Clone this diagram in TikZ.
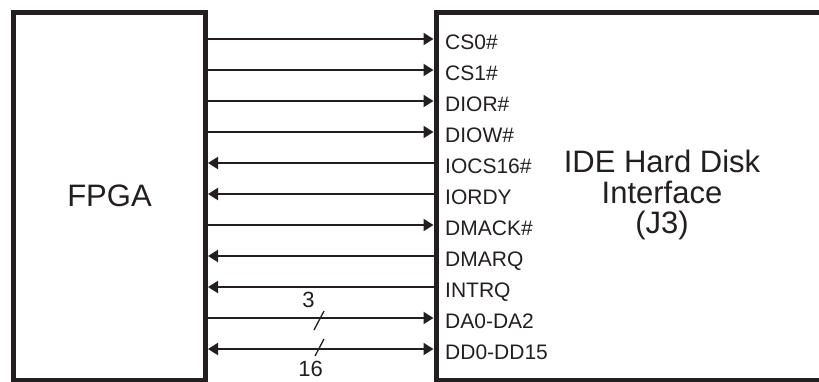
\documentclass[tikz,border=0pt]{standalone}
\usepackage{fontspec}
\setmainfont{Liberation Sans}
\usetikzlibrary{arrows.meta}
\definecolor{ink}{RGB}{35,31,32}
\begin{document}
\begin{tikzpicture}[x=1pt,y=-1pt,
  box/.style={draw=ink, line width=5pt, inner sep=0pt, rectangle},
  sig/.style={draw=ink, line width=2pt},
  tor/.style={-{Triangle[length=10pt,width=12pt]}},
  twoway/.style={{Triangle[length=10pt,width=12pt]}-{Triangle[length=10pt,width=12pt]}},
  lbl/.style={anchor=base west, inner sep=0pt, text=ink, font=\fontsize{21}{24}\selectfont},
  bus/.style={anchor=base, inner sep=0pt, text=ink, font=\fontsize{22}{24}\selectfont},
  big/.style={text=ink, font=\fontsize{31}{30.5}\selectfont}
]
\useasboundingbox (0,0) rectangle (819,381);
\clip (0,0) rectangle (819,381);
\fill[white] (0,0) rectangle (819,381);

\node[box, big, minimum width=192pt, minimum height=368pt] (fpga) at (109.5,196) {FPGA};
\node[box, minimum width=400pt, minimum height=367.5pt] (ide) at (636,196.25) {};
\node[big, align=center, inner sep=0pt] (idetxt) at (662,195) {IDE Hard Disk\\Interface\\(J3)};

\foreach \i in {0,...,10} { \coordinate (y\i) at (0,{39+31*\i}); }

\node[lbl] (cs0)   at (445,49)  {CS0\#};
\node[lbl] (cs1)   at (445,80)  {CS1\#};
\node[lbl] (dior)  at (445,111) {DIOR\#};
\node[lbl] (diow)  at (445,142) {DIOW\#};
\node[lbl] (iocs)  at (445,173) {IOCS16\#};
\node[lbl] (iordy) at (445,204) {IORDY};
\node[lbl] (dmack) at (445,235) {DMACK\#};
\node[lbl] (dmarq) at (445,266) {DMARQ};
\node[lbl] (intrq) at (445,297) {INTRQ};
\node[lbl] (da)    at (445,328) {DA0-DA2};
\node[lbl] (dd)    at (445,359) {DD0-DD15};

\draw[sig, tor] (fpga.east |- y0) -- (ide.west |- y0);
\draw[sig, tor] (fpga.east |- y1) -- (ide.west |- y1);
\draw[sig, tor] (fpga.east |- y2) -- (ide.west |- y2);
\draw[sig, tor] (fpga.east |- y3) -- (ide.west |- y3);
\draw[sig, tor] (ide.west |- y4) -- (fpga.east |- y4);
\draw[sig, tor] (ide.west |- y5) -- (fpga.east |- y5);
\draw[sig, tor] (fpga.east |- y6) -- (ide.west |- y6);
\draw[sig, tor] (ide.west |- y7) -- (fpga.east |- y7);
\draw[sig, tor] (ide.west |- y8) -- (fpga.east |- y8);
\draw[sig, tor] (fpga.east |- y9) -- (ide.west |- y9);
\draw[sig, twoway] (fpga.east |- y10) -- (ide.west |- y10);

\draw[draw=ink, line width=1.3pt] (314,330) -- (324,311);
\draw[draw=ink, line width=1.3pt] (315,356) -- (324,339);
\node[bus] (w3)  at (308.5,307.5) {3};
\node[bus] (w16) at (310.5,376.5) {16};
\end{tikzpicture}
\end{document}
